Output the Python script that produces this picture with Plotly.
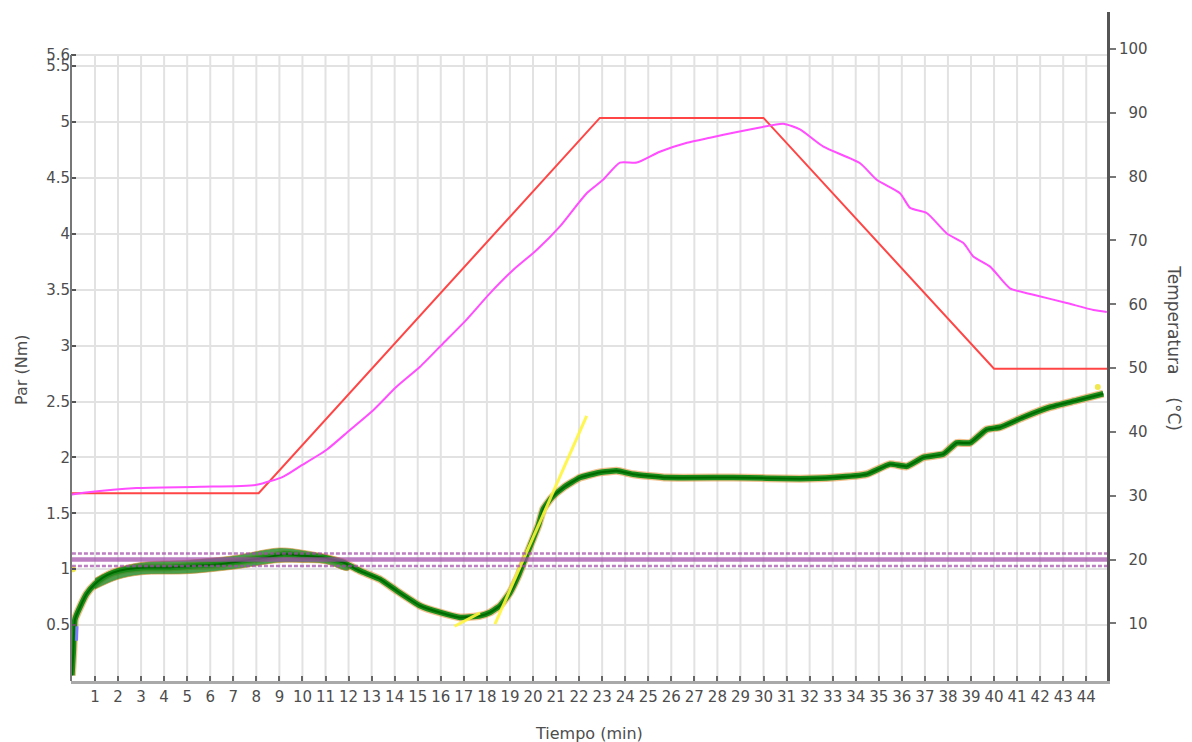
import plotly.graph_objects as go

# ---------------- data ----------------
# Torque (Par, Nm) vs time (min) - left axis
torque_t = [0.0, 0.06, 0.13, 0.35, 0.64, 1.0, 1.36, 1.79, 2.37, 3.24, 4.25, 5.26, 6.42, 7.43,
            8.45, 9.17, 10.04, 10.9, 11.77, 12.49, 13.36, 14.09, 15.1, 15.97, 16.83, 17.7,
            18.13, 18.57, 19.0, 19.36, 19.65, 19.94, 20.23, 20.45, 20.81, 21.32, 22.04, 22.9,
            23.63, 24.35, 25.8, 28.69, 31.58, 33.03, 34.48, 35.49, 36.21, 36.93, 37.8, 38.38,
            38.96, 39.68, 40.26, 41.27, 42.43, 43.59, 44.74]
torque_v = [0.05, 0.26, 0.55, 0.66, 0.78, 0.867, 0.927, 0.971, 1.0, 1.016, 1.016, 1.03, 1.045,
            1.075, 1.105, 1.135, 1.12, 1.105, 1.06, 0.986, 0.911, 0.807, 0.673, 0.613, 0.569,
            0.583, 0.613, 0.673, 0.79, 0.94, 1.09, 1.24, 1.39, 1.54, 1.64, 1.73, 1.82, 1.866,
            1.88, 1.85, 1.82, 1.82, 1.81, 1.82, 1.85, 1.94, 1.92, 2.0, 2.03, 2.13, 2.13, 2.25,
            2.27, 2.36, 2.45, 2.51, 2.57]

# spread of the noisy torque signal in the first minutes
spread_t = [1.0, 2.0, 3.0, 5.0, 7.0, 9.0, 10.0, 11.0, 12.0]
spread_hi = [0.92, 1.01, 1.06, 1.08, 1.12, 1.19, 1.17, 1.13, 1.06]
spread_lo = [0.82, 0.91, 0.95, 0.96, 1.0, 1.06, 1.06, 1.05, 0.99]

# Measured temperature (°C) - right axis
temp_t = [0.0, 0.6, 2.8, 5.6, 8.01, 9.17, 9.89, 11.05, 12.06, 13.07, 14.09, 15.1, 16.11, 17.12,
          18.13, 19.15, 20.16, 21.17, 22.33, 23.04, 23.77, 24.5, 25.5, 26.68, 27.68, 28.85,
          29.85, 30.85, 31.58, 32.6, 34.19, 34.91, 35.92, 36.36, 37.08, 37.95, 38.67, 39.1,
          39.83, 40.69, 41.71, 43.15, 44.31, 44.89]
temp_v = [30.2, 30.5, 31.2, 31.4, 31.7, 33.0, 34.6, 37.2, 40.3, 43.4, 47.1, 50.2, 53.9, 57.6,
          61.7, 65.4, 68.5, 72.2, 77.4, 79.5, 82.2, 82.2, 83.9, 85.3, 86.1, 87.0, 87.7, 88.3,
          87.4, 84.7, 82.1, 79.5, 77.4, 75.1, 74.3, 71.1, 69.6, 67.5, 65.9, 62.5, 61.5, 60.2,
          59.1, 58.8]

# Temperature program (setpoint, °C) - right axis
set_t = [0.0, 8.1, 22.9, 30.0, 40.0, 44.9]
set_v = [30.4, 30.4, 89.2, 89.2, 49.9, 49.9]

# Tangent lines (yellow) - left axis
tan1_t = [18.35, 22.33]
tan1_v = [0.509, 2.372]
tan2_t = [16.6, 17.7]
tan2_v = [0.49, 0.61]
yellow_pts_t = [0.05, 44.5]
yellow_pts_v = [1.0, 2.63]
blue_t = [0.2, 0.22]
blue_v = [0.36, 0.49]

# Horizontal reference band (Nm)
band_hi = 1.14
band_mid = 1.088
band_lo = 1.028
time_span = [0.0, 44.9]

# Axes
x_ticks = list(range(1, 45))
left_ticks = [0.5, 1, 1.5, 2, 2.5, 3, 3.5, 4, 4.5, 5, 5.5, 5.6]
left_labels = ["0.5", "1", "1.5", "2", "2.5", "3", "3.5", "4", "4.5", "5", "5.5", "5.6"]
right_ticks = [10, 20, 30, 40, 50, 60, 70, 80, 90, 100]
left_range = [0.0, 5.985]
right_range = [0.96, 105.8]
x_range = [-0.04, 44.9]

FONT = "DejaVu Sans"
TXT = "#4d4d4d"
GRID = "#e2e2e2"

fig = go.Figure()

# torque: orange halo, spread, green line, dark core
fig.add_trace(go.Scatter(x=torque_t, y=torque_v, mode="lines",
                         line=dict(color="rgba(226,140,50,0.55)", width=8, shape="spline", smoothing=0.4),
                         hoverinfo="skip", showlegend=False))
fig.add_trace(go.Scatter(x=spread_t + spread_t[::-1], y=spread_hi + spread_lo[::-1],
                         mode="lines", fill="toself", fillcolor="rgba(25,130,25,0.78)",
                         line=dict(color="rgba(215,140,50,0.6)", width=1, shape="spline"),
                         hoverinfo="skip", showlegend=False))
fig.add_trace(go.Scatter(x=torque_t, y=torque_v, mode="lines",
                         line=dict(color="#1b8c1b", width=5.5, shape="spline", smoothing=0.4),
                         showlegend=False))
fig.add_trace(go.Scatter(x=torque_t, y=torque_v, mode="lines",
                         line=dict(color="#006a00", width=2, shape="spline", smoothing=0.4),
                         hoverinfo="skip", showlegend=False))

# yellow tangents
for tx, ty in [(tan1_t, tan1_v), (tan2_t, tan2_v)]:
    fig.add_trace(go.Scatter(x=tx, y=ty, mode="lines",
                             line=dict(color="rgba(255,245,60,0.9)", width=3),
                             showlegend=False))
fig.add_trace(go.Scatter(x=yellow_pts_t, y=yellow_pts_v, mode="markers",
                         marker=dict(color="rgba(240,230,60,0.9)", size=6),
                         showlegend=False))
fig.add_trace(go.Scatter(x=blue_t, y=blue_v, mode="lines",
                         line=dict(color="#7b7bff", width=3), showlegend=False))

# purple reference band
for val, dash, w in [(band_hi, "4px,2px", 2.5), (band_mid, "solid", 4.5), (band_lo, "4px,2px", 2.5)]:
    fig.add_trace(go.Scatter(x=time_span, y=[val, val], mode="lines",
                             line=dict(color="#a04aa8", width=w, dash=dash),
                             opacity=0.7, showlegend=False))

# temperatures (right axis)
fig.add_trace(go.Scatter(x=set_t, y=set_v, mode="lines", yaxis="y2",
                         line=dict(color="#ff4545", width=2), showlegend=False))
fig.add_trace(go.Scatter(x=temp_t, y=temp_v, mode="lines", yaxis="y2",
                         line=dict(color="#ff4dff", width=2, shape="spline", smoothing=0.6),
                         showlegend=False))

right_labels = [("\u2007" + str(v)) if v < 100 else str(v) for v in right_ticks]

fig.update_layout(
    width=1192, height=742,
    margin=dict(l=71, r=85, t=12, b=61),
    paper_bgcolor="white", plot_bgcolor="white",
    font=dict(family=FONT, size=15, color=TXT),
    showlegend=False,
    xaxis=dict(range=x_range, tickmode="array", tickvals=x_ticks,
               showgrid=False,
               ticks="inside", ticklen=5, tickwidth=2, tickcolor="#666",
               showline=True, linecolor="#a9a9a9", linewidth=3,
               zeroline=False, tickfont=dict(family=FONT, size=15, color=TXT)),
    yaxis=dict(range=left_range, tickmode="array", tickvals=left_ticks, ticktext=left_labels,
               showgrid=True, gridcolor=GRID, gridwidth=2,
               ticks="inside", ticklen=5, tickwidth=2, tickcolor="#555",
               showline=False, zeroline=False,
               tickfont=dict(family=FONT, size=15, color=TXT)),
    yaxis2=dict(range=right_range, overlaying="y", side="right",
                tickmode="array", tickvals=right_ticks, ticktext=right_labels,
                showgrid=False, zeroline=False,
                ticks="outside", ticklen=6, tickwidth=2, tickcolor="#777",
                showline=True, linecolor="#555", linewidth=3,
                tickfont=dict(family=FONT, size=15, color=TXT)),
)

top_grid = left_ticks[-1]
# vertical grid lines, only up to the top left-axis grid value
for t in x_ticks:
    fig.add_shape(type="line", xref="x", yref="y", x0=t, x1=t, y0=left_range[0], y1=top_grid,
                  line=dict(color=GRID, width=2), layer="below")
# left axis line
fig.add_shape(type="line", xref="paper", yref="y", x0=0, x1=0, y0=left_range[0], y1=top_grid,
              line=dict(color="#777", width=2))

fig.add_annotation(text="Tiempo (min)", xref="paper", yref="paper", x=0.5, y=-0.078,
                   showarrow=False, xanchor="center", yanchor="middle",
                   font=dict(family=FONT, size=16, color=TXT))
fig.add_annotation(text="Par (Nm)", xref="paper", yref="paper", x=-0.0473, y=0.465,
                   showarrow=False, textangle=-90, xanchor="center", yanchor="middle",
                   font=dict(family=FONT, size=16, color=TXT))
fig.add_annotation(text="Temperatura", xref="paper", yref="paper", x=1.0651, y=0.540,
                   showarrow=False, textangle=90, xanchor="center", yanchor="middle",
                   font=dict(family=FONT, size=17, color=TXT))
fig.add_annotation(text="(°C)", xref="paper", yref="paper", x=1.0651, y=0.398,
                   showarrow=False, textangle=90, xanchor="center", yanchor="middle",
                   font=dict(family=FONT, size=17, color=TXT))

fig.write_html("out.html")
